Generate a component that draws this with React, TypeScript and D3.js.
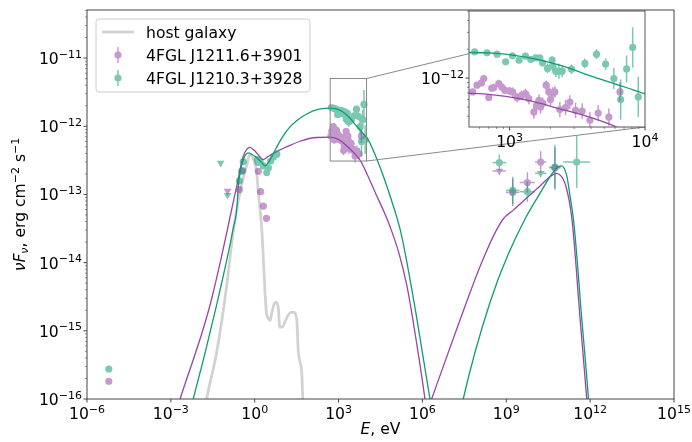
import React from 'react';
import * as d3 from 'd3';

// all values are log10(E / eV) and log10(nuFnu / erg cm^-2 s^-1)
const hostGalaxy = [
  [-1.85, -16.3], [-1.72, -16.0], [-1.36, -15.31], [-1.0, -14.33], [-0.77, -13.55], [-0.53, -12.97],
  [-0.29, -12.58], [-0.17, -12.41], [-0.05, -12.48], [0.07, -12.68], [0.13, -12.97], [0.19, -13.21],
  [0.25, -13.5], [0.31, -13.95], [0.37, -14.45], [0.43, -14.77], [0.49, -14.82], [0.55, -14.85],
  [0.62, -14.72], [0.70, -14.6], [0.78, -14.58], [0.84, -14.66], [0.90, -14.95], [1.0, -14.94],
  [1.1, -14.85], [1.2, -14.77], [1.3, -14.73], [1.42, -14.73], [1.50, -14.82], [1.56, -15.31],
  [1.68, -15.6], [1.72, -16.0], [1.75, -16.3],
];

const purpleModelSync = [
  [-2.9, -16.3], [-2.67, -16.0], [-1.54, -14.53], [-0.97, -13.5], [-0.82, -13.21], [-0.64, -12.875],
  [-0.41, -12.44], [-0.17, -12.31], [0.0, -12.36], [0.17, -12.44], [0.29, -12.49], [0.49, -12.44],
  [0.79, -12.37], [1.26, -12.28], [1.62, -12.22], [2.22, -12.165], [2.7, -12.16], [2.88, -12.175],
  [3.13, -12.23], [3.37, -12.32], [3.62, -12.42], [3.79, -12.51], [4.05, -12.73], [4.3, -12.96],
  [4.84, -13.47], [5.15, -13.85], [5.44, -14.33], [5.8, -15.2], [6.09, -16.0], [6.2, -16.35],
];
const purpleModelIC = [
  [6.2, -16.15], [6.33, -16.0], [7.23, -14.97], [8.18, -13.94], [8.6, -13.56], [8.89, -13.36],
  [9.25, -13.23], [9.61, -13.095], [10.21, -12.875], [10.63, -12.72], [10.8, -12.69], [10.98, -12.74],
  [11.16, -12.92], [11.34, -13.33], [11.64, -14.82], [11.88, -16.0], [11.95, -16.35],
];
const greenModelSync = [
  [-2.4, -16.3], [-2.2, -16.0], [-1.42, -14.72], [-0.77, -13.5], [-0.64, -13.21], [-0.59, -12.9],
  [-0.41, -12.49], [-0.23, -12.39], [-0.11, -12.41], [0.07, -12.46], [0.25, -12.53], [0.37, -12.58],
  [0.49, -12.53], [0.67, -12.4], [0.82, -12.28], [1.02, -12.14], [1.26, -12.01], [1.5, -11.92],
  [1.86, -11.82], [2.3, -11.75], [2.7, -11.733], [2.88, -11.74], [3.13, -11.784], [3.37, -11.865],
  [3.62, -11.987], [3.86, -12.098], [4.06, -12.2], [4.3, -12.41], [4.6, -12.73], [4.84, -13.02],
  [5.2, -13.51], [5.8, -14.82], [6.27, -16.0], [6.4, -16.35],
];
const greenModelIC = [
  [7.3, -16.3], [7.46, -16.0], [8.42, -14.58], [9.67, -13.36], [10.21, -12.98], [10.63, -12.7],
  [10.86, -12.59], [10.98, -12.58], [11.16, -12.72], [11.28, -13.02], [11.4, -13.36], [11.7, -14.82],
  [11.94, -16.0], [12.0, -16.35],
];

// points: [logE, logF, yErr (dex), xErr (dex)]
const purpleRadio = [[-5.22, -15.74, 0, 0]];
const greenRadio = [[-5.22, -15.56, 0, 0]];

const purpleOptical = [
  [-0.55, -12.93, 0, 0], [-0.43, -12.65, 0, 0], [0.13, -12.66, 0, 0], [0.21, -12.96, 0, 0],
  [0.31, -13.17, 0.02, 0], [0.42, -13.35, 0.02, 0],
];
const greenOptical = [
  [-0.55, -12.8, 0, 0], [-0.47, -12.66, 0, 0], [-0.41, -12.52, 0, 0], [0.09, -12.49, 0, 0],
  [0.13, -12.53, 0, 0], [0.19, -12.51, 0, 0], [0.31, -12.58, 0, 0], [0.43, -12.68, 0, 0],
  [0.49, -12.61, 0, 0], [0.57, -12.51, 0, 0], [0.67, -12.45, 0, 0], [0.79, -12.41, 0, 0],
];

const purpleXray = [
  [2.727, -12.144, 0.03], [2.759, -12.074, 0.03], [2.792, -12.05, 0.03], [2.809, -12.004, 0.03],
  [2.846, -12.203, 0.03], [2.868, -12.105, 0.03], [2.883, -12.098, 0.04], [2.92, -12.056, 0.04],
  [2.942, -12.095, 0.04], [2.964, -12.126, 0.04], [2.999, -12.134, 0.04], [3.023, -12.147, 0.05],
  [3.055, -12.203, 0.05], [3.088, -12.179, 0.05], [3.117, -12.161, 0.05], [3.142, -12.213, 0.06],
  [3.179, -12.353, 0.07], [3.199, -12.283, 0.06], [3.216, -12.231, 0.06], [3.228, -12.301, 0.07],
  [3.245, -12.262, 0.06], [3.27, -12.074, 0.05], [3.29, -12.144, 0.06], [3.302, -12.224, 0.06],
  [3.319, -12.155, 0.06], [3.334, -12.144, 0.06], [3.371, -12.328, 0.08], [3.413, -12.307, 0.08],
  [3.445, -12.249, 0.07], [3.487, -12.336, 0.08], [3.536, -12.343, 0.08], [3.593, -12.44, 0.09],
  [3.654, -12.364, 0.08], [3.733, -12.406, 0.09], [3.815, -12.144, 0.1],
];
const greenXray = [
  [2.742, -11.726, 0.02], [2.833, -11.736, 0.02], [2.907, -11.75, 0.02], [2.971, -11.83, 0.03],
  [3.021, -11.767, 0.02], [3.07, -11.813, 0.03], [3.117, -11.771, 0.03], [3.156, -11.806, 0.03],
  [3.193, -11.788, 0.03], [3.223, -11.788, 0.03], [3.243, -11.84, 0.04], [3.28, -11.899, 0.05],
  [3.314, -11.811, 0.04], [3.317, -11.875, 0.05], [3.341, -11.928, 0.06], [3.364, -11.928, 0.08],
  [3.388, -11.928, 0.06], [3.457, -11.907, 0.05], [3.556, -11.847, 0.05], [3.642, -11.75, 0.05],
  [3.709, -11.854, 0.06], [3.77, -12.004, 0.11], [3.82, -12.224, 0.21], [3.864, -11.904, 0.14],
  [3.909, -11.68, 0.21], [3.95, -12.196, 0.21],
];

const purpleGamma = [
  [9.23, -12.97, 0.2, 0.24], [9.755, -12.825, 0.15, 0.27], [10.23, -12.524, 0.16, 0.2],
  [10.74, -12.61, 0.3, 0.2],
];
const greenGamma = [
  [8.751, -12.533, 0.12, 0.24], [9.23, -12.94, 0.2, 0.24], [9.755, -12.96, 0.15, 0.27],
  [10.74, -12.6, 0.33, 0.2], [11.52, -12.524, 0.38, 0.48],
];

const purpleUpperLimits = [[-0.97, -12.95, 0, 0], [8.751, -12.655, 0, 0.24]];
const greenUpperLimits = [[-1.22, -12.54, 0, 0], [-0.97, -13.01, 0, 0], [10.23, -12.69, 0, 0.2]];

const mainXTicks = [-6, -3, 0, 3, 6, 9, 12, 15];
const mainYTicks = [-16, -15, -14, -13, -12, -11];
const insetXTicks = [3, 4];
const insetYTicks = [-12];

const PURPLE = '#9646a6';
const GREEN = '#0f9b74';
const FONT = 'DejaVu Sans, sans-serif';
const FS = 15.6;
const SUP = 11;

const W = 692, H = 442;
const M = { left: 87, right: 674, top: 10, bottom: 399 };
const IN = { left: 469, right: 645, top: 11, bottom: 127 };

const p10 = (v: number) => Math.pow(10, v);
const expText = (e: number) => (e < 0 ? '\u2212' + -e : String(e));

function Pow10({ x, y, e, anchor }: { x: number; y: number; e: number; anchor: string }) {
  return (
    <text x={x} y={y} textAnchor={anchor} fontFamily={FONT} fontSize={FS} fill="#000">
      10<tspan dy={-6.5} fontSize={SUP}>{expText(e)}</tspan>
    </text>
  );
}

function Points({ data, sx, sy, color, tri }: any) {
  const sym = d3.symbol().type(d3.symbolTriangle).size(26)();
  return (
    <g opacity={0.55}>
      {data.map((d: number[], i: number) => {
        const cx = sx(p10(d[0]));
        const cy = sy(p10(d[1]));
        const ye = d[2] || 0;
        const xe = d[3] || 0;
        return (
          <g key={i}>
            {ye > 0 && (
              <line x1={cx} x2={cx} y1={sy(p10(d[1] - ye))} y2={sy(p10(d[1] + ye))} stroke={color} strokeWidth={1.5} />
            )}
            {xe > 0 && (
              <line x1={sx(p10(d[0] - xe))} x2={sx(p10(d[0] + xe))} y1={cy} y2={cy} stroke={color} strokeWidth={1.5} />
            )}
            {tri ? (
              <path d={sym as string} transform={`translate(${cx},${cy}) rotate(180)`} fill={color} />
            ) : (
              <circle cx={cx} cy={cy} r={3.6} fill={color} />
            )}
          </g>
        );
      })}
    </g>
  );
}

export default function App() {
  const x = d3.scaleLog().domain([1e-6, 1e15]).range([M.left, M.right]);
  const y = d3.scaleLog().domain([1e-16, p10(-10.295)]).range([M.bottom, M.top]);
  const ix = d3.scaleLog().domain([p10(2.7), 1e4]).range([IN.left, IN.right]);
  const iy = d3.scaleLog().domain([p10(-12.51), p10(-11.3)]).range([IN.bottom, IN.top]);

  const mkLine = (sx: any, sy: any) =>
    d3.line<number[]>().x((d) => sx(p10(d[0]))).y((d) => sy(p10(d[1]))).curve(d3.curveMonotoneX);
  const mainLine = mkLine(x, y);
  const insetLine = mkLine(ix, iy);

  const yMinor: number[] = [];
  for (let e = -16; e < -10; e++) for (let k = 2; k <= 9; k++) {
    const v = k * p10(e);
    if (v <= p10(-10.295)) yMinor.push(v);
  }
  const ixMinor = [600, 700, 800, 900, 2000, 3000, 4000, 5000, 6000, 7000, 8000, 9000];
  const iyMinor = [4e-13, 5e-13, 6e-13, 7e-13, 8e-13, 9e-13, 2e-12, 3e-12, 4e-12, 5e-12];

  const rx0 = x(p10(2.7)), rx1 = x(1e4), ry0 = y(p10(-11.3)), ry1 = y(p10(-12.51));

  const dataLayer = (sx: any, sy: any) => (
    <>
      <Points data={purpleRadio} sx={sx} sy={sy} color={PURPLE} />
      <Points data={purpleOptical} sx={sx} sy={sy} color={PURPLE} />
      <Points data={purpleUpperLimits} sx={sx} sy={sy} color={PURPLE} tri />
      <Points data={purpleXray} sx={sx} sy={sy} color={PURPLE} />
      <Points data={purpleGamma} sx={sx} sy={sy} color={PURPLE} />
      <Points data={greenRadio} sx={sx} sy={sy} color={GREEN} />
      <Points data={greenOptical} sx={sx} sy={sy} color={GREEN} />
      <Points data={greenUpperLimits} sx={sx} sy={sy} color={GREEN} tri />
      <Points data={greenXray} sx={sx} sy={sy} color={GREEN} />
      <Points data={greenGamma} sx={sx} sy={sy} color={GREEN} />
    </>
  );

  return (
    <svg width={W} height={H} style={{ position: 'absolute', left: 0, top: 0, background: '#fff' }}>
      <defs>
        <clipPath id="mainClip">
          <rect x={M.left} y={M.top} width={M.right - M.left} height={M.bottom - M.top} />
        </clipPath>
        <clipPath id="insetClip">
          <rect x={IN.left} y={IN.top} width={IN.right - IN.left} height={IN.bottom - IN.top} />
        </clipPath>
      </defs>

      <g clipPath="url(#mainClip)">
        <path d={mainLine(hostGalaxy as any) || ''} fill="none" stroke="#d2d2d2" strokeWidth={2.8} />
        <path d={mainLine(purpleModelSync as any) || ''} fill="none" stroke={PURPLE} strokeWidth={1.3} />
        <path d={mainLine(purpleModelIC as any) || ''} fill="none" stroke={PURPLE} strokeWidth={1.3} />
        <path d={mainLine(greenModelSync as any) || ''} fill="none" stroke={GREEN} strokeWidth={1.3} />
        <path d={mainLine(greenModelIC as any) || ''} fill="none" stroke={GREEN} strokeWidth={1.3} />
        {dataLayer(x, y)}
      </g>

      {/* zoom marker */}
      <rect x={rx0} y={ry0} width={rx1 - rx0} height={ry1 - ry0} fill="none" stroke="#888" strokeWidth={1} />
      <line x1={rx1} y1={ry0} x2={IN.right} y2={IN.top} stroke="#888" strokeWidth={1} />
      <line x1={rx1} y1={ry1} x2={IN.right} y2={IN.bottom} stroke="#888" strokeWidth={1} />

      {/* main axes */}
      <rect x={M.left} y={M.top} width={M.right - M.left} height={M.bottom - M.top} fill="none" stroke="#444" strokeWidth={1} />
      {mainXTicks.map((e) => (
        <g key={e}>
          <line x1={x(p10(e))} x2={x(p10(e))} y1={M.bottom} y2={M.bottom + 3.5} stroke="#444" />
          <Pow10 x={x(p10(e))} y={419} e={e} anchor="middle" />
        </g>
      ))}
      {mainYTicks.map((e) => (
        <g key={e}>
          <line x1={M.left - 3.5} x2={M.left} y1={y(p10(e))} y2={y(p10(e))} stroke="#444" />
          <Pow10 x={82} y={y(p10(e)) + 6} e={e} anchor="end" />
        </g>
      ))}
      {yMinor.map((v, i) => (
        <line key={i} x1={M.left - 2} x2={M.left} y1={y(v)} y2={y(v)} stroke="#444" strokeWidth={0.6} />
      ))}

      <text x={(M.left + M.right) / 2} y={434} textAnchor="middle" fontFamily={FONT} fontSize={FS}>
        <tspan fontStyle="italic">E</tspan>, eV
      </text>
      <text transform={`translate(25,${(M.top + M.bottom) / 2}) rotate(-90)`} textAnchor="middle" fontFamily={FONT} fontSize={FS}>
        <tspan fontStyle="italic">νF</tspan>
        <tspan fontStyle="italic" fontSize={SUP} dy={3}>ν</tspan>
        <tspan dy={-3}>, erg cm</tspan>
        <tspan fontSize={SUP} dy={-6.5}>−2</tspan>
        <tspan dy={6.5}> s</tspan>
        <tspan fontSize={SUP} dy={-6.5}>−1</tspan>
      </text>

      {/* inset */}
      <rect x={IN.left} y={IN.top} width={IN.right - IN.left} height={IN.bottom - IN.top} fill="#fff" />
      <g clipPath="url(#insetClip)">
        <path d={insetLine(purpleModelSync as any) || ''} fill="none" stroke={PURPLE} strokeWidth={1.3} />
        <path d={insetLine(greenModelSync as any) || ''} fill="none" stroke={GREEN} strokeWidth={1.3} />
        <Points data={purpleXray} sx={ix} sy={iy} color={PURPLE} />
        <Points data={greenXray} sx={ix} sy={iy} color={GREEN} />
      </g>
      <rect x={IN.left} y={IN.top} width={IN.right - IN.left} height={IN.bottom - IN.top} fill="none" stroke="#555" strokeWidth={1} />
      {insetXTicks.map((e) => (
        <g key={e}>
          <line x1={ix(p10(e))} x2={ix(p10(e))} y1={IN.bottom} y2={IN.bottom + 3.5} stroke="#444" />
          <Pow10 x={ix(p10(e))} y={147} e={e} anchor="middle" />
        </g>
      ))}
      {ixMinor.map((v) => (
        <line key={v} x1={ix(v)} x2={ix(v)} y1={IN.bottom} y2={IN.bottom + 2} stroke="#444" strokeWidth={0.6} />
      ))}
      {insetYTicks.map((e) => (
        <g key={e}>
          <line x1={IN.left - 3.5} x2={IN.left} y1={iy(p10(e))} y2={iy(p10(e))} stroke="#444" />
          <Pow10 x={IN.left - 5} y={iy(p10(e)) + 6} e={e} anchor="end" />
        </g>
      ))}
      {iyMinor.map((v) => (
        <line key={v} x1={IN.left - 2} x2={IN.left} y1={iy(v)} y2={iy(v)} stroke="#444" strokeWidth={0.6} />
      ))}

      {/* legend */}
      <rect x={96} y={19} width={214} height={73} rx={3} fill="#fff" fillOpacity={0.8} stroke="#ccc" />
      <line x1={102} x2={134} y1={32} y2={32} stroke="#d2d2d2" strokeWidth={2.8} />
      <text x={146} y={37.5} fontFamily={FONT} fontSize={FS}>host galaxy</text>
      <g opacity={0.55}>
        <line x1={118} x2={118} y1={47} y2={63} stroke={PURPLE} strokeWidth={1.5} />
        <circle cx={118} cy={55} r={3.6} fill={PURPLE} />
        <line x1={118} x2={118} y1={70} y2={86} stroke={GREEN} strokeWidth={1.5} />
        <circle cx={118} cy={78} r={3.6} fill={GREEN} />
      </g>
      <text x={146} y={60.5} fontFamily={FONT} fontSize={FS}>4FGL J1211.6+3901</text>
      <text x={146} y={83.5} fontFamily={FONT} fontSize={FS}>4FGL J1210.3+3928</text>
    </svg>
  );
}
